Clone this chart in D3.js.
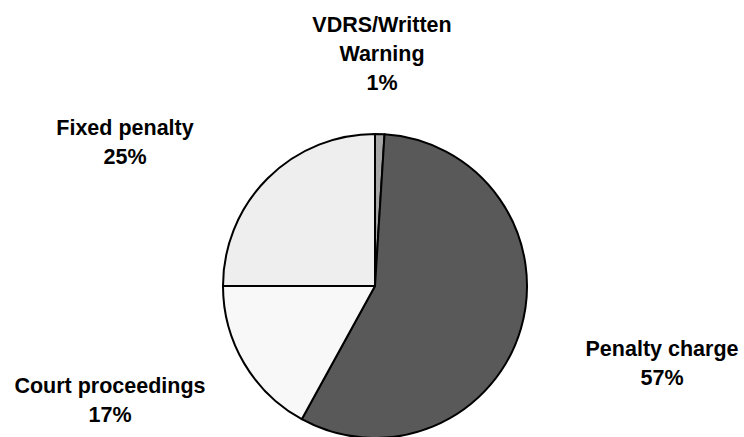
<!DOCTYPE html>
<html>
<head>
<meta charset="utf-8">
<script src="https://cdn.jsdelivr.net/npm/d3@7"></script>
<style>
  body { margin: 0; background: #fff; }
  text { font-family: "Liberation Sans", Arial, sans-serif; font-weight: bold; font-size: 21.5px; fill: #000; }
</style>
</head>
<body>
<div id="chart"></div>
<script>
var categories = ["VDRS/Written Warning", "Penalty charge", "Court proceedings", "Fixed penalty"];
var values = [1, 57, 17, 25];
var colors = ["#a6a6a6", "#595959", "#f8f8f8", "#eeeeee"];
// label lines, split as in the original
var labelLines = [["VDRS/Written", "Warning", "1%"], ["Penalty charge", "57%"], ["Court proceedings", "17%"], ["Fixed penalty", "25%"]];
var labelPos = [[382, 24], [662, 348], [110, 385], [125, 127]];

var width = 744, height = 437;
var cx = 375, cy = 286, radius = 152;

var svg = d3.select("#chart").append("svg")
    .attr("width", width)
    .attr("height", height);

var pie = d3.pie().sort(null).value(function(d) { return d; });
var arc = d3.arc().innerRadius(0).outerRadius(radius);

var g = svg.append("g").attr("transform", "translate(" + cx + "," + cy + ")");

g.selectAll("path")
    .data(pie(values))
    .join("path")
    .attr("d", arc)
    .attr("fill", function(d, i) { return colors[i]; })
    .attr("stroke", "#000")
    .attr("stroke-width", 2)
    .attr("stroke-linejoin", "round");

var labels = svg.selectAll("text.lbl")
    .data(categories)
    .join("text")
    .attr("class", "lbl")
    .attr("text-anchor", "middle")
    .attr("x", function(d, i) { return labelPos[i][0]; })
    .attr("y", function(d, i) { return labelPos[i][1]; });

labels.each(function(d, i) {
    var t = d3.select(this);
    labelLines[i].forEach(function(line, j) {
        t.append("tspan")
            .attr("x", labelPos[i][0])
            .attr("dy", j == 0 ? "0.35em" : 29)
            .text(line);
    });
});
</script>
</body>
</html>
